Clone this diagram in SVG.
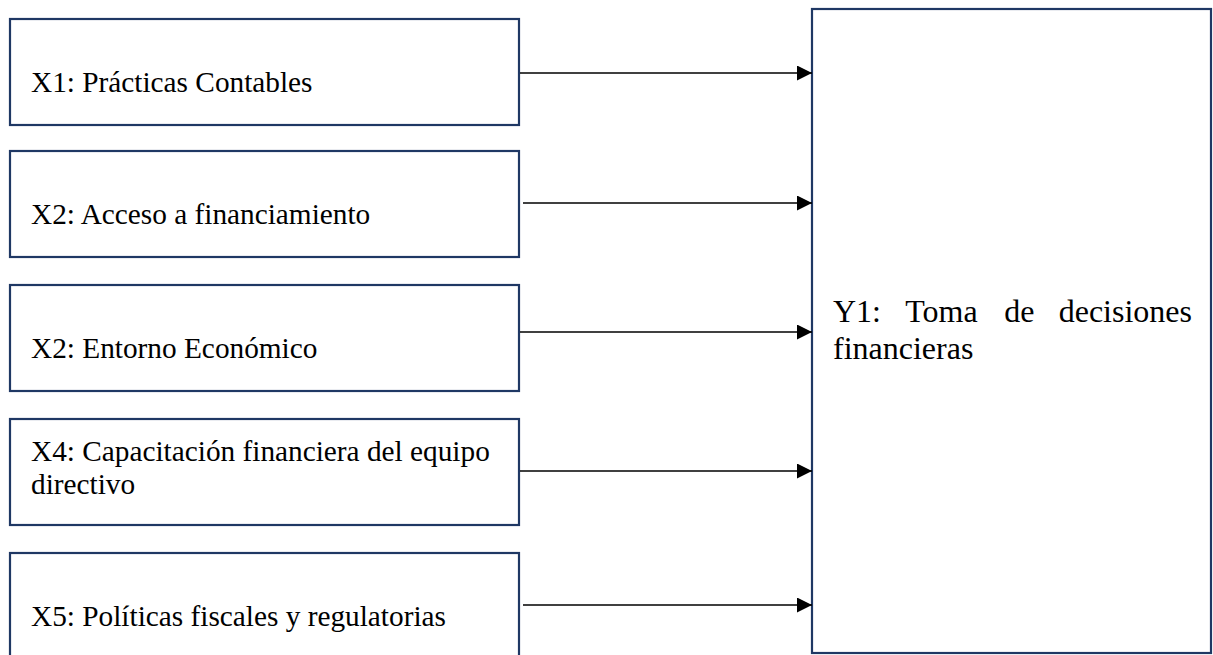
<svg xmlns="http://www.w3.org/2000/svg" width="1213" height="655" viewBox="0 0 1213 655">
  <style>
    .box { fill: #ffffff; stroke: #1F3864; stroke-width: 2.2; }
    .lbl { font-family: "Liberation Serif", "Times New Roman", serif; font-size: 29.3px; fill: #000000; }
    .big { font-family: "Liberation Serif", "Times New Roman", serif; font-size: 32px; fill: #000000; }
    .conn { stroke: #000000; stroke-width: 1.6; fill: none; }
  </style>
  <defs>
    <marker id="arrow" markerUnits="userSpaceOnUse" markerWidth="16" markerHeight="16" refX="15" refY="7.5" orient="auto">
      <path d="M0,0 L15,7.5 L0,15 Z" fill="#000000"/>
    </marker>
  </defs>
  <rect width="1213" height="655" fill="#ffffff"/>

  <g id="x1">
    <rect class="box" x="10" y="19" width="509" height="106"/>
    <text class="lbl" x="31" y="92">X1: Prácticas Contables</text>
  </g>
  <g id="x2">
    <rect class="box" x="10" y="151" width="509" height="106"/>
    <text class="lbl" x="31" y="224">X2: Acceso a financiamiento</text>
  </g>
  <g id="x3">
    <rect class="box" x="10" y="285" width="509" height="106"/>
    <text class="lbl" x="31" y="358">X2: Entorno Económico</text>
  </g>
  <g id="x4">
    <rect class="box" x="10" y="419" width="509" height="106"/>
    <text class="lbl" x="31" y="461">X4: Capacitación financiera del equipo</text>
    <text class="lbl" x="31" y="494">directivo</text>
  </g>
  <g id="x5">
    <rect class="box" x="10" y="553" width="509" height="108"/>
    <text class="lbl" x="31" y="626">X5: Políticas fiscales y regulatorias</text>
  </g>
  <g id="y1">
    <rect class="box" x="812" y="9" width="399" height="644"/>
    <text class="big" y="322"><tspan x="833">Y1:</tspan><tspan x="905.3">Toma</tspan><tspan x="1004.3">de</tspan><tspan x="1192" text-anchor="end">decisiones</tspan></text>
    <text class="big" x="833" y="359">financieras</text>
  </g>

  <g id="connectors">
    <line class="conn" x1="520" y1="73" x2="812" y2="73" marker-end="url(#arrow)"/>
    <line class="conn" x1="523" y1="203" x2="812" y2="203" marker-end="url(#arrow)"/>
    <line class="conn" x1="520" y1="332" x2="812" y2="332" marker-end="url(#arrow)"/>
    <line class="conn" x1="520" y1="471" x2="812" y2="471" marker-end="url(#arrow)"/>
    <line class="conn" x1="523" y1="605" x2="812" y2="605" marker-end="url(#arrow)"/>
  </g>
</svg>
